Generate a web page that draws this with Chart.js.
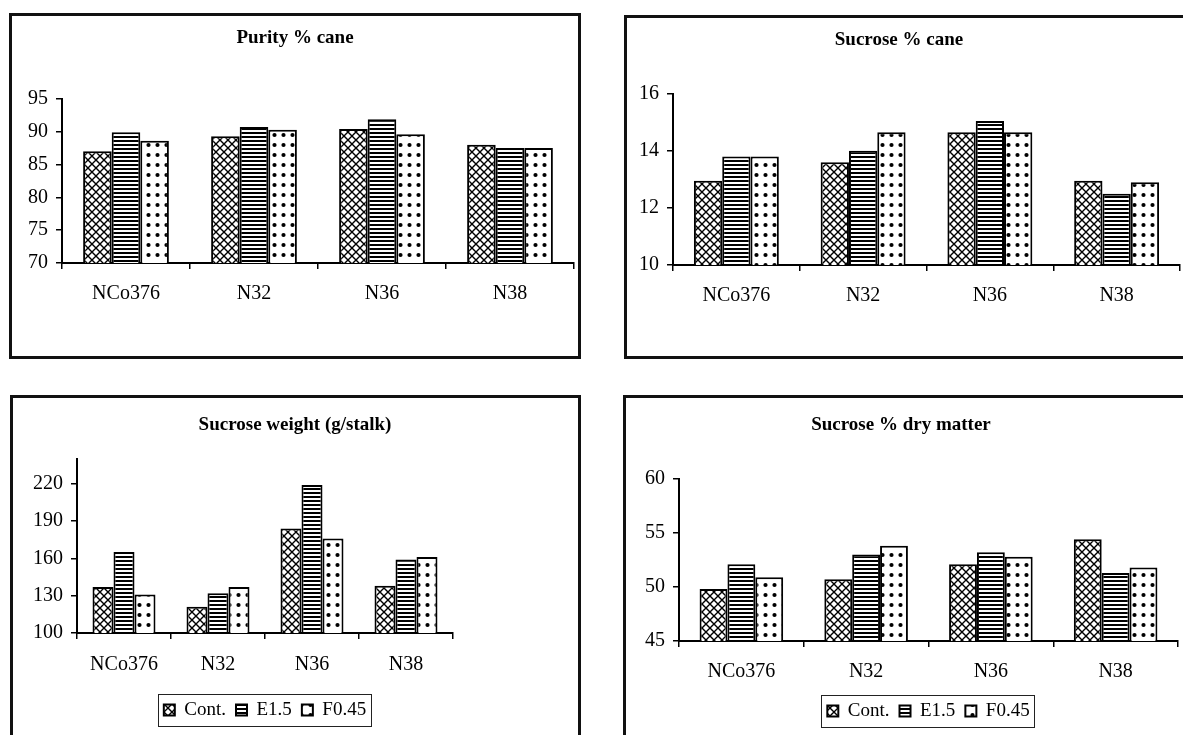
<!DOCTYPE html>
<html>
<head>
<meta charset="utf-8">
<script src="https://cdn.jsdelivr.net/npm/chart.js@4.4.0/dist/chart.umd.min.js"></script>
<style>
  body { margin: 0; background: #fff; width: 1183px; height: 735px; overflow: hidden; position: relative; }
  canvas { position: absolute; }
  .frame { position: absolute; border: 3px solid #111; box-sizing: border-box; pointer-events: none; }
</style>
</head>
<body>
<canvas id="purity" width="590" height="370" style="left:0;top:0"></canvas>
<canvas id="sucCane" width="593" height="370" style="left:590px;top:0"></canvas>
<canvas id="sucWeight" width="590" height="355" style="left:0;top:380px"></canvas>
<canvas id="sucDry" width="593" height="355" style="left:590px;top:380px"></canvas>

<div class="frame" style="left:9px;top:13px;width:572px;height:346px"></div>
<div class="frame" style="left:624px;top:15px;width:580px;height:344px"></div>
<div class="frame" style="left:10px;top:395px;width:571px;height:360px"></div>
<div class="frame" style="left:623px;top:395px;width:580px;height:360px"></div>

<script>
// categories and series
const varieties = ['NCo376', 'N32', 'N36', 'N38'];
const treatments = ['Cont.', 'E1.5', 'F0.45'];

// Purity % cane
const purityCont = [87.0, 89.3, 90.4, 88.0];
const purityE15 = [89.9, 90.7, 91.9, 87.5];
const purityF045 = [88.6, 90.3, 89.6, 87.5];
const purityTicks = [70, 75, 80, 85, 90, 95];

// Sucrose % cane
const caneCont = [12.95, 13.6, 14.65, 12.95];
const caneE15 = [13.8, 14.0, 15.05, 12.5];
const caneF045 = [13.8, 14.65, 14.65, 12.9];
const caneTicks = [10, 12, 14, 16];

// Sucrose weight (g/stalk)
const weightCont = [137, 121, 184, 138];
const weightE15 = [165, 132, 219, 159];
const weightF045 = [131, 137, 176, 161];
const weightTicks = [100, 130, 160, 190, 220];
const weightMax = 240;

// Sucrose % dry matter
const dryCont = [49.8, 50.7, 52.1, 54.4];
const dryE15 = [52.1, 53.0, 53.2, 51.3];
const dryF045 = [50.9, 53.8, 52.8, 51.8];
const dryTicks = [45, 50, 55, 60];

Chart.defaults.font.family = "'Liberation Serif', 'Times New Roman', serif";
Chart.defaults.color = '#000';

// black and white fill patterns like the printed figure
function makePattern(w, h, paint) {
    const c = document.createElement('canvas');
    c.width = w;
    c.height = h;
    const g = c.getContext('2d');
    g.fillStyle = '#fff';
    g.fillRect(0, 0, w, h);
    g.fillStyle = '#000';
    g.strokeStyle = '#000';
    paint(g);
    return g.createPattern(c, 'repeat');
}

const hatch = makePattern(8, 8, g => {
    g.lineWidth = 1.4;
    g.beginPath();
    g.moveTo(-1, -1); g.lineTo(9, 9);
    g.moveTo(9, -1); g.lineTo(-1, 9);
    g.stroke();
});
const stripes = makePattern(8, 4, g => {
    g.fillRect(0, 0, 8, 2);
});
const dots = makePattern(9, 10, g => {
    g.beginPath();
    g.arc(4.5, 5, 2.1, 0, Math.PI * 2);
    g.fill();
});
const patterns = [hatch, stripes, dots];

// draws the thin box round the legend
const legendFrame = {
    id: 'legendFrame',
    afterDraw(chart) {
        const lg = chart.legend;
        if (!lg || !lg.options.display || !lg.legendHitBoxes.length) return;
        const hb = lg.legendHitBoxes;
        const x0 = Math.min(...hb.map(h => h.left)) - 6;
        const x1 = Math.max(...hb.map(h => h.left + h.width)) + 5;
        const yc = hb[0].top + hb[0].height / 2;
        const ctx = chart.ctx;
        ctx.save();
        ctx.strokeStyle = '#222';
        ctx.lineWidth = 1;
        ctx.strokeRect(Math.round(x0) + 0.5, Math.round(yc - 16) + 0.5, Math.round(x1 - x0), 32);
        ctx.restore();
    }
};

function makeChart(id, title, series, ticks, max, box) {
    const datasets = series.map((vals, i) => ({
        label: treatments[i],
        data: vals,
        backgroundColor: patterns[i],
        borderColor: '#000',
        borderWidth: 2,
        categoryPercentage: 0.67,
        barPercentage: 1.0
    }));

    const scales = {
        x: {
            grid: { drawOnChartArea: false, drawTicks: true, tickLength: 6, color: '#000', lineWidth: 1.5, offset: true },
            border: { color: '#000', width: 2 },
            ticks: { color: '#000', font: { size: 20 }, padding: box.xPad, maxRotation: 0 },
            afterFit: s => { s.height = box.xHeight; }
        },
        y: {
            min: ticks[0],
            max: max,
            grid: { drawOnChartArea: false, drawTicks: true, tickLength: 6, color: '#000', lineWidth: 1.5 },
            border: { color: '#000', width: 2 },
            ticks: { color: '#000', font: { size: 20 }, padding: 8 },
            afterBuildTicks: s => { s.ticks = ticks.map(v => ({ value: v })); },
            afterFit: s => { s.width = box.yWidth; }
        }
    };
    // empty right side so the plot stays narrow but the title stays centred
    if (box.rightGap) {
        scales.spare = {
            type: 'linear',
            position: 'right',
            grid: { display: false },
            border: { display: false },
            ticks: { display: false },
            afterFit: s => { s.width = box.rightGap; }
        };
    }

    return new Chart(document.getElementById(id), {
        type: 'bar',
        data: { labels: varieties, datasets: datasets },
        options: {
            responsive: false,
            animation: false,
            events: [],
            layout: { padding: box.padding },
            scales: scales,
            plugins: {
                title: {
                    display: true,
                    text: title,
                    color: '#000',
                    font: { size: 19, weight: 'bold' },
                    padding: { top: box.titleTop, bottom: box.titleBottom }
                },
                legend: {
                    display: !!box.legend,
                    position: 'bottom',
                    fullSize: false,
                    labels: {
                        color: '#000',
                        font: { size: 19 },
                        boxWidth: 11,
                        boxHeight: 11,
                        padding: 10
                    }
                },
                tooltip: { enabled: false }
            }
        },
        plugins: [legendFrame]
    });
}

makeChart('purity', 'Purity % cane', [purityCont, purityE15, purityF045], purityTicks, 95, {
    padding: { left: 16, right: 16, top: 0, bottom: 0 },
    yWidth: 46, xHeight: 107, xPad: 13, titleTop: 27, titleBottom: 49
});

makeChart('sucCane', 'Sucrose % cane', [caneCont, caneE15, caneF045], caneTicks, 16, {
    padding: { left: 28, right: 3, top: 0, bottom: 0 },
    yWidth: 55, xHeight: 105, xPad: 13, titleTop: 29, titleBottom: 42
});

makeChart('sucWeight', 'Sucrose weight (g/stalk)', [weightCont, weightE15, weightF045], weightTicks, weightMax, {
    padding: { left: 0, right: 0, top: 0, bottom: 5.5 },
    yWidth: 77, xHeight: 57.5, xPad: 14, titleTop: 34, titleBottom: 22,
    rightGap: 137, legend: true
});

makeChart('sucDry', 'Sucrose % dry matter', [dryCont, dryE15, dryF045], dryTicks, 60, {
    padding: { left: 34, right: 5, top: 0, bottom: 4.5 },
    yWidth: 55, xHeight: 50.5, xPad: 13, titleTop: 34, titleBottom: 42,
    legend: true
});
</script>
</body>
</html>
